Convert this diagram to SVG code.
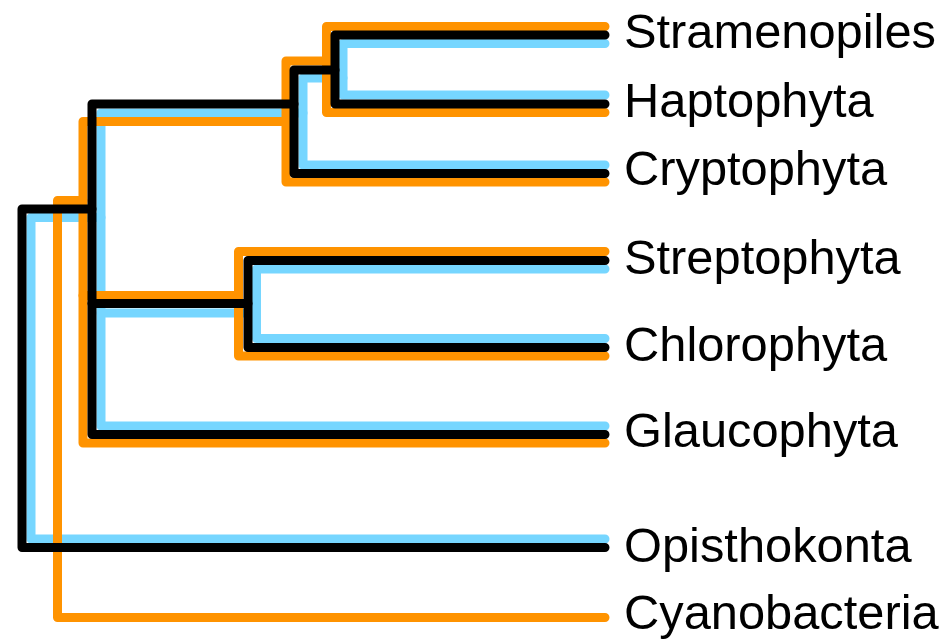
<svg xmlns="http://www.w3.org/2000/svg" width="949" height="640" viewBox="0 0 949 640">
  <style>
    .br { fill: none; stroke-width: 9; stroke-linecap: round; stroke-linejoin: round; }
    .sky { stroke: #76D6FF; }
    .tan { stroke: #FF9300; }
    .ink { stroke: #000000; }
    .lbl { font-family: "Liberation Sans", Arial, Helvetica, sans-serif; font-size: 48.8px; fill: #000; }
  </style>
  <rect width="949" height="640" fill="#ffffff"/>

  <!-- three overlaid trees: sky below, tangerine middle, black on top -->
  <g id="connectors">
    <g id="tree-sky" class="br sky">
      <path d="M605,539 H31 V217.5 H101"/>
      <path d="M605,426 H101 V113 H303"/>
      <path d="M101,313 H256.5"/>
      <path d="M605,165 H303 V78 H343"/>
      <path d="M605,43.5 H343 V95 H605"/>
      <path d="M605,269 H256.5 V338.5 H605"/>
    </g>
    <g id="tree-tangerine" class="br tan">
      <path d="M605,617.5 H57.5 V200.5 H83"/>
      <path d="M605,443 H83 V121.5 H286"/>
      <path d="M83,295.5 H238.5"/>
      <path d="M605,182 H286 V61 H326.5"/>
      <path d="M605,26.5 H326.5 V112.5 H605"/>
      <path d="M605,251.5 H238.5 V356 H605"/>
    </g>
    <g id="tree-black" class="br ink">
      <path d="M605,547.5 H22 V209 H92"/>
      <path d="M605,434.5 H92 V104 H294"/>
      <path d="M92,303.5 H248"/>
      <path d="M605,173.5 H294 V70 H335"/>
      <path d="M605,35 H335 V104 H605"/>
      <path d="M605,260.5 H248 V347.5 H605"/>
    </g>
  </g>

  <!-- taxon labels -->
  <g id="stramenopiles"><text class="lbl" x="624" y="48">Stramenopiles</text></g>
  <g id="haptophyta"><text class="lbl" x="624" y="117">Haptophyta</text></g>
  <g id="cryptophyta"><text class="lbl" x="624" y="185">Cryptophyta</text></g>
  <g id="streptophyta"><text class="lbl" x="624" y="274">Streptophyta</text></g>
  <g id="chlorophyta"><text class="lbl" x="624" y="361">Chlorophyta</text></g>
  <g id="glaucophyta"><text class="lbl" x="624" y="447">Glaucophyta</text></g>
  <g id="opisthokonta"><text class="lbl" x="624" y="562">Opisthokonta</text></g>
  <g id="cyanobacteria"><text class="lbl" x="624" y="629">Cyanobacteria</text></g>
</svg>
